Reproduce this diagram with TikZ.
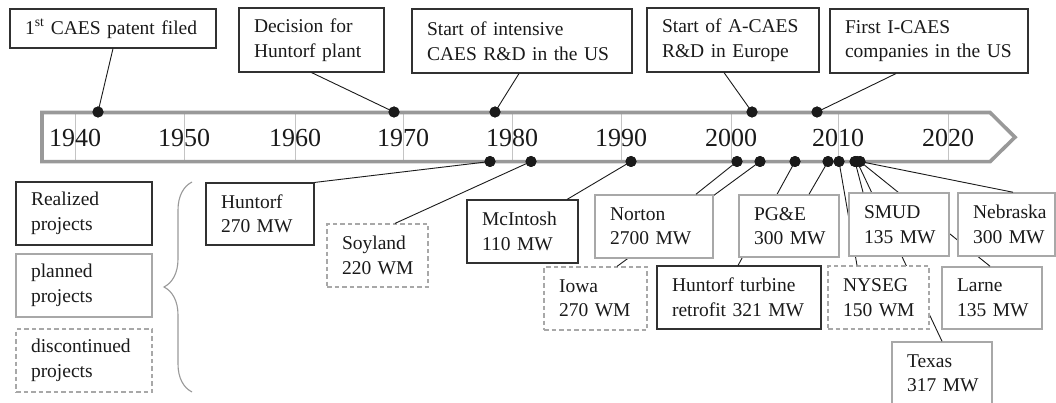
\documentclass[tikz,border=0pt]{standalone}
\usepackage{fontspec}
\setmainfont{Liberation Serif}
\usetikzlibrary{decorations.pathreplacing}
\definecolor{bandgray}{HTML}{999999}
\definecolor{tickgray}{HTML}{C4C4C4}
\definecolor{boxgray}{HTML}{A8A8A8}
\definecolor{inkk}{HTML}{1A1A1A}
\hbadness=10000
\hfuzz=50pt
\newcommand\mybox[7]{%
  \pgfmathsetmacro\myBW{#5-#3}%
  \pgfmathsetmacro\myBH{#6-#4}%
  \pgfmathsetmacro\myTW{#5-#3-30}%
  \node[#2, minimum width=\myBW pt, minimum height=\myBH pt, text width=\myTW pt] (#1) at ({(#3+#5)/2},{(#4+#6)/2}) {#7};}
\begin{document}
\begin{tikzpicture}[x=1pt, y=-1pt,
  box/.style={draw, fill=white, inner xsep=15pt, inner ysep=0pt, align=left,
    font=\fontsize{19.5}{24.5}\selectfont, text=inkk},
  real/.style={box, draw=inkk!90, line width=1.1pt},
  plan/.style={box, draw=boxgray, line width=1.5pt},
  disc/.style={box, draw=boxgray, line width=1.2pt, dash pattern=on 4.5pt off 3pt},
  dot/.style={circle, fill=inkk, inner sep=0pt, minimum size=11pt},
  conn/.style={draw=inkk, line width=0.9pt},
  year/.style={font=\fontsize{26}{30}\selectfont, text=inkk, inner sep=0pt}]
\useasboundingbox (0,0) rectangle (1056,403);
% ticks
\foreach \x in {75,184,295,403,512,621,731,838,948}
  \draw[tickgray, line width=0.9pt] (\x,112.5) -- (\x,161.7);
% band
\draw[bandgray, line width=3.6pt, line join=miter] (42,112.5) -- (990,112.5) -- (1015,137.2) -- (990,161.7) -- (42,161.7) -- cycle;
% years
\foreach \x/\yr in {75/1940,184/1950,295/1960,403/1970,512/1980,621/1990,731/2000,838/2010,948/2020}
  \node[year] (y\yr) at (\x,137.5) {\yr};
% dots
\node[dot] (t1) at (98,112) {};
\node[dot] (t2) at (394,112) {};
\node[dot] (t3) at (495,112) {};
\node[dot] (t4) at (752,112) {};
\node[dot] (t5) at (817,112) {};
\node[dot] (b1) at (490,161.5) {};
\node[dot] (b2) at (531,161.5) {};
\node[dot] (b3) at (631,161.5) {};
\node[dot] (b4) at (737,161.5) {};
\node[dot] (b5) at (760,161.5) {};
\node[dot] (b6) at (795,161.5) {};
\node[dot] (b7) at (828,161.5) {};
\node[dot] (b8) at (839,161.5) {};
\node[dot] (b9) at (855,161.5) {};
\node[dot] (b10) at (857,161.5) {};
\node[dot] (b11) at (860,161.5) {};
% Texas first: its connector runs behind NYSEG and SMUD
\mybox{B12}{plan}{892}{342}{992}{405}{Texas\\317~MW}
\draw[conn] (B12.north) -- (b10.center);
% boxes reached by connectors that pass behind other boxes
\mybox{A1}{real}{10}{9}{216}{48}{1\textsuperscript{st}~CAES~patent~filed}
\mybox{A2}{real}{239}{8}{384}{72}{Decision~for\\Huntorf~plant}
\mybox{A3}{real}{412}{9}{632}{73}{Start~of~intensive\\CAES~R\&D~in~the~US}
\mybox{A4}{real}{647}{8}{819}{72}{Start~of~A-CAES\\R\&D~in~Europe}
\mybox{A5}{real}{830}{9}{1028}{73}{First~I-CAES\\companies~in~the~US}
\mybox{B1}{real}{206}{183}{314}{245}{Huntorf\\270~MW}
\mybox{B2}{disc}{327}{224}{428}{287}{Soyland\\220~WM}
\mybox{B3}{real}{467}{200}{578}{263}{McIntosh\\110~MW}
\mybox{B5}{disc}{544}{267}{647}{330}{Iowa\\270~WM}
\mybox{B7}{real}{657}{266}{821}{329}{Huntorf~turbine\\retrofit~321~MW}
\mybox{B10}{disc}{828}{266}{929}{329}{NYSEG\\150~WM}
\mybox{B11}{plan}{942}{267}{1042}{329}{Larne\\135~MW}
\draw[conn] ([xshift=21.5pt]B5.north) -- (b5.center);
\draw[conn] ([xshift=-1pt]B7.north) -- (b6.center);
\draw[conn] ([xshift=-21.5pt]B10.north) -- (b8.center);
\draw[conn] ([xshift=-2pt]B11.north) -- (b11.center);
% boxes that cover those connectors
\mybox{B4}{plan}{595}{195}{713}{258}{Norton\\2700~MW}
\mybox{B6}{plan}{739}{195}{839}{257}{PG\&E\\300~MW}
\mybox{B8}{plan}{849}{193}{949}{256}{SMUD\\135~MW}
\mybox{B9}{plan}{958}{193}{1055}{256}{Nebraska\\300~MW}
% legend
\mybox{L1}{real}{16}{182}{152}{245}{Realized\\projects}
\mybox{L2}{plan}{16}{254}{152}{317}{planned\\projects}
\mybox{L3}{disc}{16}{329}{152}{392}{discontinued\\projects}
\coordinate (brB) at (192,392);
\coordinate (brT) at (192,182);
\draw[bandgray, line width=1.1pt, decorate, decoration={brace, amplitude=28pt}] (brB) -- (brT);
% remaining connectors
\draw[conn] (A1.south) -- (t1.center);
\draw[conn] (A2.south) -- (t2.center);
\draw[conn] ([xshift=-3pt]A3.south) -- (t3.center);
\draw[conn] ([xshift=-9pt]A4.south) -- (t4.center);
\draw[conn] ([xshift=-33pt]A5.south) -- (t5.center);
\draw[conn] (B1.north east) -- (b1.center);
\draw[conn] ([xshift=17.5pt]B2.north) -- (b2.center);
\draw[conn] ([xshift=44.5pt]B3.north) -- (b3.center);
\draw[conn] ([xshift=42pt]B4.north) -- (b4.center);
\draw[conn] ([xshift=20pt]B6.north) -- (b7.center);
\draw[conn] ([xshift=-36pt]B8.north) -- (b9.center);
\draw[conn] ([xshift=6.5pt]B9.north) -- (b11.center);
% dots on top
\foreach \d in {t1,t2,t3,t4,t5,b1,b2,b3,b4,b5,b6,b7,b8,b9,b10,b11}
  \fill[inkk] (\d.center) circle (5.5pt);
\end{tikzpicture}
\end{document}
